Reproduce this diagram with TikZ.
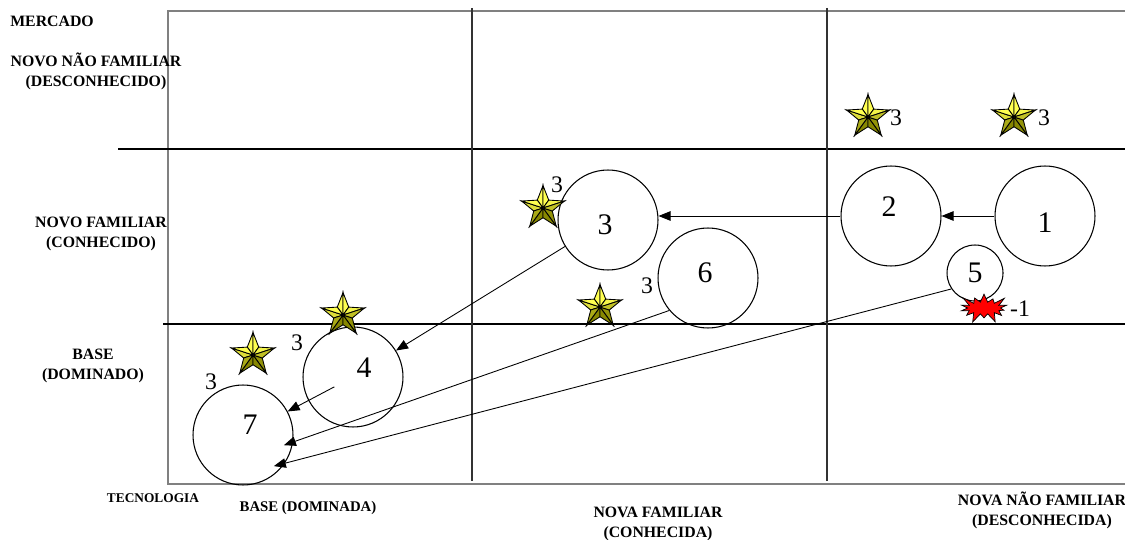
\documentclass[tikz,border=0pt]{standalone}
\usepackage{fontspec}
\setmainfont{Liberation Serif}
\usepackage{tikz}
\usetikzlibrary{arrows.meta,shapes.symbols,calc}
\usepackage{xcolor}
\definecolor{starlight}{RGB}{255,255,80}
\definecolor{stardark}{RGB}{135,135,0}
\definecolor{framegray}{RGB}{128,128,128}
\tikzset{
  gstar/.pic={
    \foreach \k in {0,...,4}{
      \pgfmathsetmacro\a{90+72*\k}
      \pgfmathsetmacro\pa{100*max(0,min(1,0.6+0.7*cos(\a+18-100)))}
      \pgfmathsetmacro\pb{100*max(0,min(1,0.6+0.7*cos(\a-18-100)))}
      \draw[line width=0.5pt,fill=starlight!\pa!stardark] (0,0) -- (\a:0.45cm) -- (\a+36:0.195cm) -- cycle;
      \draw[line width=0.5pt,fill=starlight!\pb!stardark] (0,0) -- (\a-36:0.195cm) -- (\a:0.45cm) -- cycle;
    }
  }
}

\begin{document}
\begin{tikzpicture}[x=0.02cm,y=-0.02cm,
    ring/.style={circle,draw,line width=0.6pt,minimum size=2cm,inner sep=0pt},
    num/.style={font=\fontsize{17}{17}\selectfont,inner sep=0pt},
    cnt/.style={font=\fontsize{13.5}{14}\selectfont,inner sep=0pt},
    axis/.style={font=\fontsize{9}{11.3}\selectfont\bfseries,align=center,inner sep=0pt},
    arr/.style={-{Triangle[length=0.24cm,width=0.19cm]},line width=0.5pt}]
  \useasboundingbox (0,0) rectangle (1125,540);
  \draw[framegray,line width=0.7pt](1130,11)--(168,11)--(168,484)--(1130,484);
  \draw[line width=0.6pt](118,149)--(1130,149);
  \draw[line width=0.6pt](163,324)--(1130,324);
  \draw[black!80,line width=0.7pt](472,8)--(472,481);
  \draw[black!80,line width=0.7pt](827,8)--(827,481);

  \node[axis] (mercado) at (52,21) {MERCADO};
  \node[axis] (mnovo) at (96,71) {NOVO NÃO FAMILIAR\\(DESCONHECIDO)};
  \node[axis] (mfam) at (101,234) {NOVO FAMILIAR\\(CONHECIDO)};
  \node[axis] (mbase) at (93,366) {BASE\\(DOMINADO)};
  \node[axis,font=\fontsize{7.6}{9}\selectfont\bfseries] (tecno) at (153,498) {TECNOLOGIA};
  \node[axis,font=\fontsize{8.4}{10}\selectfont\bfseries] (tbase) at (308,508) {BASE (DOMINADA)};
  \node[axis] (tfam) at (658,524) {NOVA FAMILIAR\\(CONHECIDA)};
  \node[axis] (tnovo) at (1042,510) {NOVA NÃO FAMILIAR\\(DESCONHECIDA)};

  \node[ring,label={[num,shift={(0,7)}]center:1}] (c1) at (1045,216) {};
  \node[ring,label={[num,shift={(-2,-9)}]center:2}] (c2) at (891,216) {};
  \node[ring,label={[num,shift={(-3,5)}]center:3}] (c3) at (608,220) {};
  \node[ring,label={[num,shift={(11,-9)}]center:4}] (c4) at (353,377) {};
  \node[ring,minimum size=1.12cm,label={[num]center:5}] (c5) at (975,273) {};
  \node[ring,label={[num,shift={(-3,-5)}]center:6}] (c6) at (708,278) {};
  \node[ring,label={[num,shift={(7,-10)}]center:7}] (c7) at (243,435) {};

  \draw[arr] (c1) -- (c2);
  \draw[arr] (c2.west) -- (c2.west -| c3.east);
  \draw[arr] (c3) -- (c4);
  \draw[arr] ($(c4)!0.17!(c7)$) -- (c7);
  \draw[arr,shorten >=-5.5pt] (c6.220) -- (c7.-8);
  \draw[arr,shorten >=-6.5pt] (c5.214) -- (c7.-34);

  \pic at (868,117) {gstar};
  \pic at (1014,117) {gstar};
  \pic at (543,208) {gstar};
  \pic at (600,307) {gstar};
  \pic at (343,315) {gstar};
  \pic at (253,355) {gstar};
  \node[cnt] (t1) at (896,118) {3};
  \node[cnt] (t2) at (1044,118) {3};
  \node[cnt] (t3) at (557,185) {3};
  \node[cnt] (t4) at (647,286) {3};
  \node[cnt] (t5) at (297,343) {3};
  \node[cnt] (t6) at (211,382) {3};

  \node[starburst,draw,fill=red,line width=0.4pt,minimum width=1.1cm,minimum height=0.68cm,
    starburst points=14,starburst point height=0.22cm,inner sep=0pt] (boom) at (984,308) {};
  \node[cnt] (minus) at (1020,309) {-1};
\end{tikzpicture}
\end{document}
